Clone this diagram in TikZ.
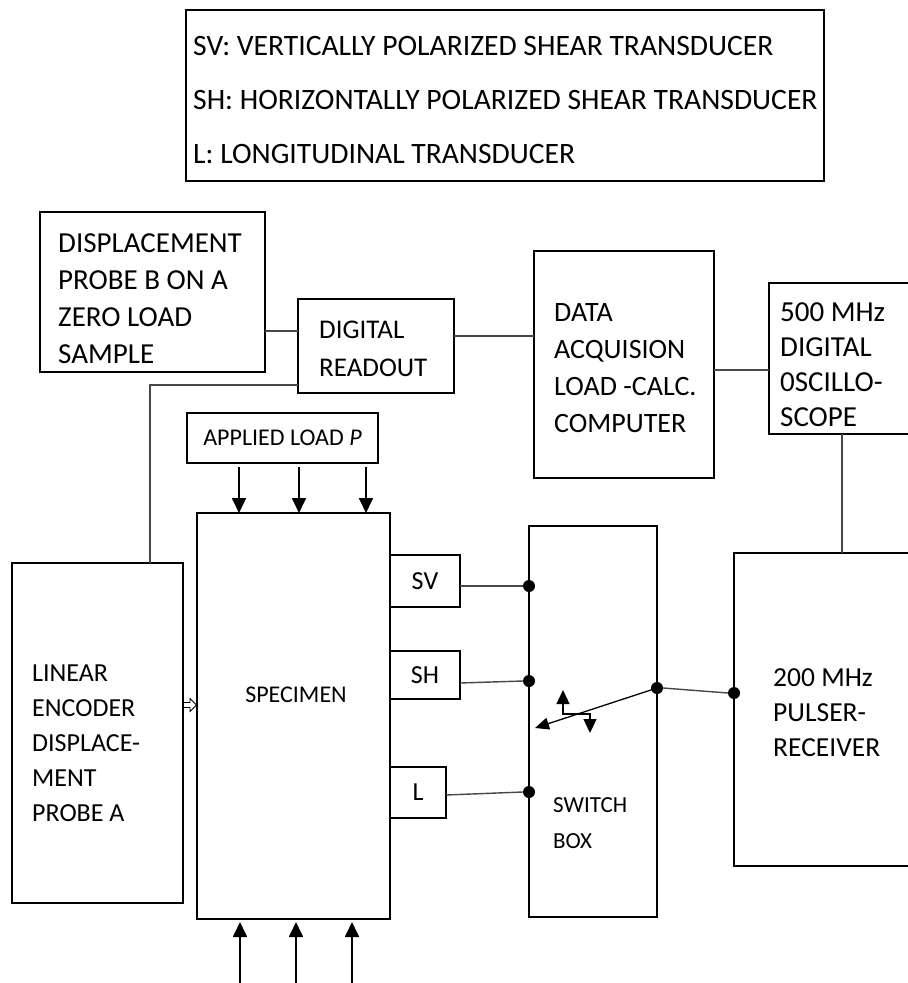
\documentclass[tikz,border=0pt]{standalone}
\usepackage{fontspec}
\setmainfont{Carlito}
\usetikzlibrary{arrows.meta,calc}
\newcommand\mybox[5]{\node[box,minimum width={#4-#2},minimum height={#5-#3}] (#1) at ({(#2+#4)/2},{(#3+#5)/2}) {};}
\newcommand\fs[2]{\fontsize{#1}{#2}\selectfont}
\begin{document}
\begin{tikzpicture}[x=1pt,y=-1pt,
  box/.style={draw=black,line width=1.8pt,inner sep=0pt,outer sep=0pt},
  txt/.style={align=left,inner sep=0pt,anchor=west},
  ctxt/.style={inner sep=0pt},
  wire/.style={draw=black!72,line width=1.4pt},
  ldarrow/.style={line width=1.8pt,-{Triangle[length=15pt,width=14pt]}},
  smarrow/.style={line width=1.3pt},
  dot/.style={circle,fill=black,inner sep=0pt,minimum size=12pt},
]
\clip (0,0) rectangle (908,983);
% boxes
\mybox{legend}{186}{10}{824}{181}
\mybox{probeB}{40}{212}{265}{372}
\mybox{readout}{298}{299}{454}{393}
\mybox{daq}{534}{251}{714}{478}
\mybox{scope}{769}{283}{940}{434}
\mybox{pulser}{734}{553}{940}{866}
\mybox{load}{187}{413}{378}{463}
\mybox{spec}{197}{513}{390}{919}
\mybox{sv}{390}{555}{460}{607}
\mybox{sh}{390}{651}{460}{699}
\mybox{lbox}{390}{767}{446}{818}
\mybox{switch}{529}{526}{657}{917}
\mybox{enc}{12}{563}{183}{903}
% texts
\node[txt,font=\fs{29.6}{35}] (t1) at (193,46) {SV: VERTICALLY POLARIZED SHEAR TRANSDUCER};
\node[txt,font=\fs{29.6}{35}] (t2) at (193,100) {SH: HORIZONTALLY POLARIZED SHEAR TRANSDUCER};
\node[txt,font=\fs{29.6}{35}] (t3) at (193,154) {L: LONGITUDINAL TRANSDUCER};
\node[txt,font=\fs{29}{37}] (tprobe) at (58,299) {DISPLACEMENT\\PROBE B ON A\\ZERO LOAD\\SAMPLE};
\node[txt,font=\fs{27}{38}] (tread) at (319,349) {DIGITAL\\READOUT};
\node[txt,font=\fs{28}{37}] (tdaq) at (554,368) {DATA\\ACQUISION\\LOAD -CALC.\\COMPUTER};
\node[txt,font=\fs{29}{35}] (tscope) at (780,365) {500 MHz\\DIGITAL\\0SCILLO-\\SCOPE};
\node[ctxt,font=\fs{24}{30}] (tload) at (load) {APPLIED LOAD \textit{P}};
\node[ctxt,font=\fs{24}{30}] (tspec) at (296,695) {SPECIMEN};
\node[ctxt,font=\fs{26}{30}] (tsv) at (sv) {SV};
\node[ctxt,font=\fs{26}{30}] (tsh) at (sh) {SH};
\node[ctxt,font=\fs{26}{30}] (tl) at (lbox) {L};
\node[txt,font=\fs{23}{36}] (tsw) at (553,823) {SWITCH\\BOX};
\node[txt,font=\fs{27.5}{35}] (tpul) at (773,713) {200 MHz\\PULSER-\\RECEIVER};
\node[txt,font=\fs{26}{35}] (tenc) at (32,743) {LINEAR\\ENCODER\\DISPLACE-\\MENT\\PROBE A};
% dots
\node[dot] (dsv) at (switch.west |- 0,586) {};
\node[dot] (dsh) at (switch.west |- 0,681) {};
\node[dot] (dl) at (switch.west |- 0,792) {};
\node[dot] (dsw) at (switch.east |- 0,688) {};
\node[dot] (dpu) at (pulser.west |- 0,693) {};
% wires
\draw[wire] (probeB.east |- 0,331) -- (readout.west |- 0,331);
\draw[wire] (readout.east |- 0,336) -- (daq.west |- 0,336);
\draw[wire] (daq.east |- 0,370) -- (scope.west |- 0,370);
\draw[wire] (scope.south -| 842,0) -- (pulser.north -| 842,0);
\draw[wire] (enc.north -| 150,0) -- (150,385) -- (readout.west |- 0,385);
\draw[wire] (sv.east |- dsv) -- (dsv.west);
\draw[wire] (sh.east |- 0,683) -- (dsh.west);
\draw[wire] (lbox.east |- 0,795) -- (dl.west);
\draw[wire] (dsw.east) -- (dpu.west);
% switch arm and selector
\coordinate (armtip) at (535,728);
\draw[smarrow,-{Triangle[length=14pt,width=12pt]}] (dsw.center) -- (armtip);
\coordinate (upt) at (563,690);
\coordinate (dnt) at (590,733);
\draw[smarrow,{Triangle[length=14pt,width=13pt]}-{Triangle[length=14pt,width=13pt]}] (upt) -- (563,714) -- (590,714) -- (dnt);
% load arrows
\foreach \x/\n in {239/a,299/b,366/c}{
  \draw[ldarrow] ($(load.south -| \x,0)+(0,4)$) -- (spec.north -| \x,0);
}
\foreach \x/\n in {240/a,296/b,352/c}{
  \coordinate (bot\n) at (\x,990);
  \draw[ldarrow] (bot\n) -- ($(spec.south -| \x,0)+(0,3)$);
}
% hollow arrow encoder -> specimen
\coordinate (ha) at (enc.east |- 0,705);
\draw[line width=0.8pt] ($(ha)+(1,-2.5)$) -- ($(ha)+(7,-2.5)$) -- ($(ha)+(7,-6.5)$) -- ($(ha)+(13.5,0)$) -- ($(ha)+(7,6.5)$) -- ($(ha)+(7,2.5)$) -- ($(ha)+(1,2.5)$);
\end{tikzpicture}
\end{document}
